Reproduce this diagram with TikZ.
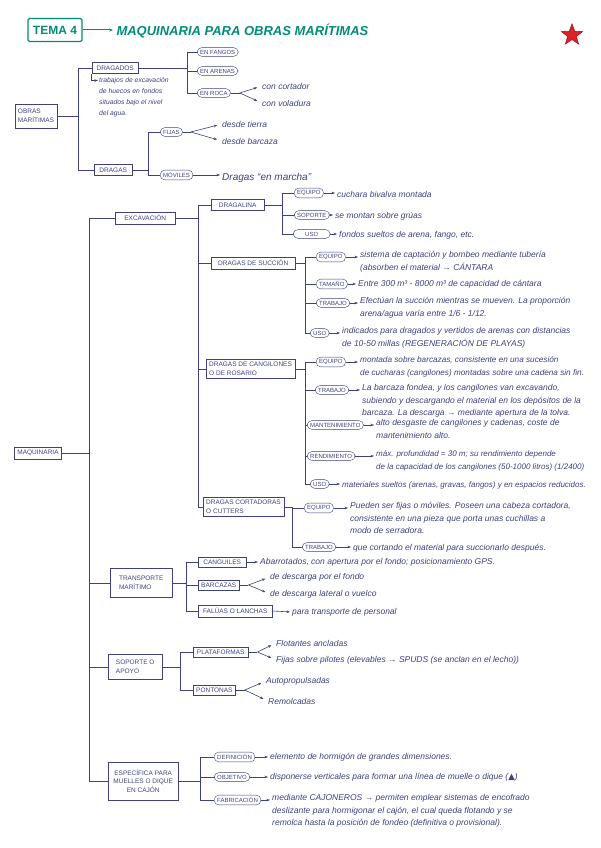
\documentclass[tikz,border=0pt]{standalone}
\usepackage{fontspec}
\setmainfont{Liberation Sans}
\newfontfamily\symfont{DejaVu Sans}
\definecolor{inkblue}{RGB}{62,64,128}
\definecolor{titleteal}{RGB}{0,140,118}
\definecolor{starred}{RGB}{222,32,40}
\usetikzlibrary{arrows.meta,shapes.geometric}

\begin{document}
\begin{tikzpicture}[x=1pt,y=-1pt,
  box/.style={draw=inkblue, text=inkblue, font=\fontsize{6.5}{8.5}\selectfont, inner xsep=3pt, inner ysep=3pt, align=left},
  tag/.style={draw=inkblue, text=inkblue, rounded corners=4.5pt, font=\fontsize{6}{6.5}\selectfont, inner xsep=3pt, inner ysep=2.2pt},
  note/.style={text=inkblue, font=\fontsize{8.5}{12.5}\selectfont\itshape, align=left, inner sep=0pt},
  tree/.style={inkblue, line width=0.6pt},
  arr/.style={inkblue, line width=0.6pt, -{Stealth[length=3.5pt,width=2.6pt]}, shorten >=2pt}]
  \useasboundingbox (0,0) rectangle (601,848);

  %% Title
  \node[draw=titleteal, line width=1.3pt, rounded corners=1.5pt, text=titleteal, font=\bfseries\fontsize{12}{13}\selectfont, inner xsep=5pt, minimum height=23] (tema) at (55,30) {TEMA 4};
  \node[anchor=west, text=titleteal, font=\bfseries\itshape\fontsize{13}{14}\selectfont] (titulo) at (113,31) {MAQUINARIA PARA OBRAS MARÍTIMAS};
  \draw[titleteal, line width=1pt, -{Stealth[length=4pt]}] (tema.east) -- (titulo.west |- tema.east);
  \node[star, star points=5, star point ratio=2.4, fill=starred, draw=starred!60!black, minimum size=18] (estrella) at (572,35) {};

  %% Obras maritimas
  \node[box, minimum width=39, minimum height=24] (obras) at (36,116) {OBRAS\\MARÍTIMAS};
  \node[box, anchor=west, minimum width=46] (dragados) at (92,68) {DRAGADOS};
  \node[box, anchor=west, minimum width=38] (dragas) at (94,170) {DRAGAS};
  \coordinate (t0) at (78,0);
  \foreach \ch in {dragados,dragas}
    \draw[tree] (obras.east) -- (obras.east -| t0) |- (\ch.west);
  \node[note, anchor=north west, font=\fontsize{6.8}{11}\selectfont\itshape] (dragadosnota) at (99,77) {trabajos de excavación\\de huecos en fondos\\situados bajo el nivel\\del agua.};
  \draw[arr, shorten >=1pt] ([xshift=-1pt]dragados.south west) |- ([yshift=-3.5pt]dragadosnota.north west);

  %% Dragados
  \node[tag, anchor=west] (fangos) at (197,52) {EN FANGOS};
  \node[tag, anchor=west] (arenas) at (197,71) {EN ARENAS};
  \node[tag, anchor=west] (roca) at (197,93) {EN ROCA};
  \coordinate (t1) at (187,0);
  \foreach \ch in {fangos,arenas,roca}
    \draw[tree] (dragados.east) -- (dragados.east -| t1) |- (\ch.west);
  \draw[tree] (roca.east) -- ++(9,0) coordinate (rocaF);
  \node[note, anchor=west] (cortador) at (262,86) {con cortador};
  \node[note, anchor=west] (voladura) at (262,103) {con voladura};
  \foreach \ch in {cortador,voladura} \draw[arr, shorten >=5pt] (rocaF) -- (\ch.west);

  %% Dragas
  \node[tag, anchor=west] (fijas) at (160,132) {FIJAS};
  \node[tag, anchor=west] (moviles) at (160,175) {MÓVILES};
  \coordinate (t2) at (148,0);
  \foreach \ch in {fijas,moviles}
    \draw[tree] (dragas.east) -- (dragas.east -| t2) |- (\ch.west);
  \draw[tree] (fijas.east) -- ++(8,0) coordinate (fijasF);
  \node[note, anchor=west] (tierra) at (222,124) {desde tierra};
  \node[note, anchor=west] (barcaza) at (222,141) {desde barcaza};
  \foreach \ch in {tierra,barcaza} \draw[arr, shorten >=5pt] (fijasF) -- (\ch.west);
  \node[note, anchor=west, font=\fontsize{10}{11}\selectfont\itshape] (marcha) at (222,178) {Dragas “en marcha”};
  \draw[arr] (moviles.east) -- (moviles.east -| marcha.west);

  %% Maquinaria
  \node[box, minimum width=43] (maq) at (38,453) {MAQUINARIA};
  \node[box, anchor=west, minimum width=60] (excav) at (115,218) {EXCAVACIÓN};
  \node[box, anchor=west, minimum width=62, minimum height=29] (transp) at (110,583) {TRANSPORTE\\MARÍTIMO};
  \node[box, anchor=west, minimum width=54, minimum height=25] (soporte) at (108,667) {SOPORTE O\\APOYO};
  \node[box, anchor=west, align=center, minimum width=70, minimum height=38] (cajon) at (108,781) {ESPECÍFICA PARA\\MUELLES O DIQUE\\EN CAJÓN};
  \coordinate (tm) at (89,0);
  \foreach \ch in {excav,transp,soporte,cajon}
    \draw[tree] (maq.east) -- (maq.east -| tm) |- (\ch.west);

  %% Excavacion
  \node[box, anchor=west, minimum width=53] (dragalina) at (211,205) {DRAGALINA};
  \node[box, anchor=west, minimum width=84] (succion) at (211,263) {DRAGAS DE SUCCIÓN};
  \node[box, anchor=west] (cangilones) at (206,369) {DRAGAS DE CANGILONES\\O DE ROSARIO};
  \node[box, anchor=west] (cutters) at (203,507) {DRAGAS CORTADORAS\\O CUTTERS};
  \coordinate (te) at (198,0);
  \foreach \ch in {dragalina,succion,cangilones,cutters}
    \draw[tree] (excav.east) -- (excav.east -| te) |- (\ch.west);

  %% Dragalina
  \node[tag, anchor=west] (dlEq) at (294,193) {EQUIPO};
  \node[tag, anchor=west] (dlSop) at (294,215) {SOPORTE};
  \node[tag, anchor=west, minimum width=37] (dlUso) at (293,234) {USO};
  \coordinate (t3) at (282,0);
  \foreach \ch in {dlEq,dlSop,dlUso}
    \draw[tree] (dragalina.east) -- (dragalina.east -| t3) |- (\ch.west);
  \node[note, anchor=west] (dlEqN) at (337,194) {cuchara bivalva montada};
  \node[note, anchor=west] (dlSopN) at (335,216) {se montan sobre grúas};
  \node[note, anchor=west] (dlUsoN) at (339,235) {fondos sueltos de arena, fango, etc.};
  \foreach \ch in {dlEq,dlSop,dlUso} \draw[arr] (\ch.east) -- (\ch.east -| \ch N.west);

  %% Dragas de succion
  \node[tag, anchor=west] (scEq) at (316,257) {EQUIPO};
  \node[tag, anchor=west] (scTam) at (316,284) {TAMAÑO};
  \node[tag, anchor=west] (scTra) at (316,303) {TRABAJO};
  \node[tag, anchor=west] (scUso) at (310,333) {USO};
  \coordinate (t4) at (305,0);
  \foreach \ch in {scEq,scTam,scTra,scUso}
    \draw[tree] (succion.east) -- (succion.east -| t4) |- (\ch.west);
  \node[note, anchor=north west] (scEqN) at (360,251.5) {sistema de captación y bombeo mediante tubería\\(absorben el material → CÁNTARA};
  \node[note, anchor=west] (scTamN) at (358,284) {Entre 300 m³ - 8000 m³ de capacidad de cántara};
  \node[note, anchor=north west] (scTraN) at (360,297.5) {Efectúan la succión mientras se mueven. La proporción\\arena/agua varía entre 1/6 - 1/12.};
  \node[note, anchor=north west] (scUsoN) at (342,327.5) {indicados para dragados y vertidos de arenas con distancias\\de 10-50 millas (REGENERACIÓN DE PLAYAS)};
  \foreach \ch in {scEq,scTam,scTra,scUso} \draw[arr] (\ch.east) -- (\ch.east -| \ch N.west);

  %% Dragas de cangilones
  \node[tag, anchor=west] (cgEq) at (316,362) {EQUIPO};
  \node[tag, anchor=west] (cgTra) at (315,390) {TRABAJO};
  \node[tag, anchor=west] (cgMan) at (307,425) {MANTENIMIENTO};
  \node[tag, anchor=west] (cgRen) at (307,456) {RENDIMIENTO};
  \node[tag, anchor=west] (cgUso) at (310,484) {USO};
  \coordinate (t5) at (305,0);
  \foreach \ch in {cgEq,cgTra,cgMan,cgRen,cgUso}
    \draw[tree] (cangilones.east) -- (cangilones.east -| t5) |- (\ch.west);
  \node[note, anchor=north west, font=\fontsize{8.2}{12.5}\selectfont\itshape] (cgEqN) at (360,356.5) {montada sobre barcazas, consistente en una sucesión\\de cucharas (cangilones) montadas sobre una cadena sin fin.};
  \node[note, anchor=north west] (cgTraN) at (362,384.5) {La barcaza fondea, y los cangilones van excavando,\\subiendo y descargando el material en los depósitos de la\\barcaza. La descarga → mediante apertura de la tolva.};
  \node[note, anchor=north west] (cgManN) at (376,419.5) {alto desgaste de cangilones y cadenas, coste de\\mantenimiento alto.};
  \node[note, anchor=north west, font=\fontsize{8}{12.5}\selectfont\itshape] (cgRenN) at (376,450.5) {máx. profundidad = 30 m; su rendimiento depende\\de la capacidad de los cangilones (50-1000 litros) (1/2400)};
  \node[note, anchor=west, font=\fontsize{8}{12.5}\selectfont\itshape] (cgUsoN) at (342,485) {materiales sueltos (arenas, gravas, fangos) y en espacios reducidos.};
  \foreach \ch in {cgEq,cgTra,cgMan,cgRen,cgUso} \draw[arr] (\ch.east) -- (\ch.east -| \ch N.west);

  %% Dragas cortadoras
  \node[tag, anchor=west] (ctEq) at (304,508) {EQUIPO};
  \node[tag, anchor=west] (ctTra) at (302,547) {TRABAJO};
  \coordinate (t6) at (292,0);
  \foreach \ch in {ctEq,ctTra}
    \draw[tree] (cutters.east) -- (cutters.east -| t6) |- (\ch.west);
  \node[note, anchor=north west] (ctEqN) at (350,502.5) {Pueden ser fijas o móviles. Poseen una cabeza cortadora,\\consistente en una pieza que porta unas cuchillas a\\modo de serradora.};
  \node[note, anchor=west] (ctTraN) at (353,548) {que cortando el material para succionarlo después.};
  \foreach \ch in {ctEq,ctTra} \draw[arr] (\ch.east) -- (\ch.east -| \ch N.west);

  %% Transporte maritimo
  \node[box, anchor=west, minimum width=48] (canguiles) at (198,562) {CANGUILES};
  \node[box, anchor=west] (barcazas) at (198,585) {BARCAZAS};
  \node[box, anchor=west, minimum width=74] (falucas) at (198,611) {FALÚAS O LANCHAS};
  \coordinate (t7) at (186,0);
  \foreach \ch in {canguiles,barcazas,falucas}
    \draw[tree] (transp.east) -- (transp.east -| t7) |- (\ch.west);
  \node[note, anchor=west] (canguilesN) at (260,562) {Abarrotados, con apertura por el fondo; posicionamiento GPS.};
  \draw[arr] (canguiles.east) -- (canguilesN.west);
  \draw[tree] (barcazas.east) -- ++(9,0) coordinate (barcazasF);
  \node[note, anchor=west] (fondo) at (270,577) {de descarga por el fondo};
  \node[note, anchor=west] (vuelco) at (270,594) {de descarga lateral o vuelco};
  \foreach \ch in {fondo,vuelco} \draw[arr, shorten >=5pt] (barcazasF) -- (\ch.west);
  \node[note, anchor=west] (falucasN) at (292,612) {para transporte de personal};
  \draw[arr] (falucas.east) -- (falucasN.west);

  %% Soporte o apoyo
  \node[box, anchor=west, minimum width=55] (plataformas) at (193,652) {PLATAFORMAS};
  \node[box, anchor=west] (pontonas) at (193,690) {PONTONAS};
  \coordinate (t8) at (180,0);
  \foreach \ch in {plataformas,pontonas}
    \draw[tree] (soporte.east) -- (soporte.east -| t8) |- (\ch.west);
  \draw[tree] (plataformas.east) -- ++(9,0) coordinate (plataformasF);
  \node[note, anchor=west] (flotantes) at (276,643) {Flotantes ancladas};
  \node[note, anchor=west] (pilotes) at (276,660) {Fijas sobre pilotes (elevables → SPUDS (se anclan en el lecho))};
  \foreach \ch in {flotantes,pilotes} \draw[arr, shorten >=5pt] (plataformasF) -- (\ch.west);
  \draw[tree] (pontonas.east) -- ++(9,0) coordinate (pontonasF);
  \node[note, anchor=west] (autoprop) at (266,681) {Autopropulsadas};
  \node[note, anchor=west] (remolcadas) at (268,701) {Remolcadas};
  \foreach \ch in {autoprop,remolcadas} \draw[arr, shorten >=5pt] (pontonasF) -- (\ch.west);

  %% Cajon
  \node[tag, anchor=west] (cjDef) at (214,757) {DEFINICIÓN};
  \node[tag, anchor=west] (cjObj) at (214,777) {OBJETIVO};
  \node[tag, anchor=west] (cjFab) at (214,800) {FABRICACIÓN};
  \coordinate (t9) at (200,0);
  \foreach \ch in {cjDef,cjObj,cjFab}
    \draw[tree] (cajon.east) -- (cajon.east -| t9) |- (\ch.west);
  \node[note, anchor=west] (cjDefN) at (270,757) {elemento de hormigón de grandes dimensiones.};
  \node[note, anchor=west] (cjObjN) at (270,777) {disponerse verticales para formar una línea de muelle o dique ({\symfont ▲})};
  \node[note, anchor=north west] (cjFabN) at (272,794.5) {mediante CAJONEROS → permiten emplear sistemas de encofrado\\deslizante para hormigonar el cajón, el cual queda flotando y se\\remolca hasta la posición de fondeo (definitiva o provisional).};
  \foreach \ch in {cjDef,cjObj,cjFab} \draw[arr] (\ch.east) -- (\ch.east -| \ch N.west);
\end{tikzpicture}
\end{document}
